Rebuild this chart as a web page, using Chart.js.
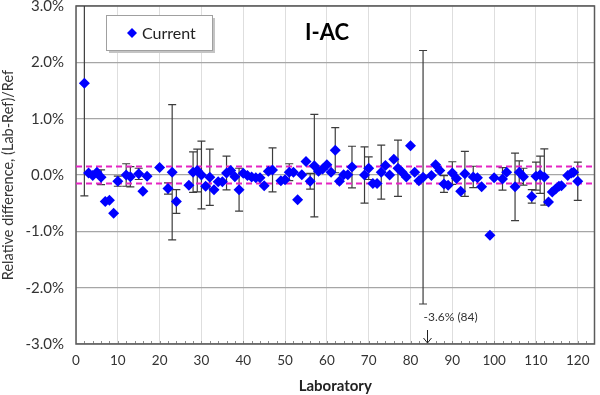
<!DOCTYPE html>
<html><head><meta charset="utf-8">
<script src="https://cdn.jsdelivr.net/npm/chart.js@4.4.1/dist/chart.umd.min.js"></script>
<style>html,body{margin:0;padding:0;background:#fff;}canvas{display:block;}</style>
</head><body>
<canvas id="c" width="600" height="395" style="width:600px;height:395px"></canvas>
<script>
// ---- data ----
const labs = [2,3,4,5,6,7,8,9,10,12,13,15,16,17,20,22,23,24,27,28,29,30,31,32,33,34,35,36,37,38,39,40,
  41,42,43,44,45,46,47,49,50,51,52,53,54,55,56,57,58,59,60,61,62,63,64,65,66,69,70,71,72,73,74,75,76,77,
  78,79,80,81,82,83,85,86,87,88,89,90,91,92,93,95,96,97,99,100,102,103,105,106,107,109,110,111,112,113,
  113.9,114.7,115.5,116.1,117.6,118.5,119,120];
const values = [1.63,0.035,-0.01,0.05,-0.04,-0.47,-0.45,-0.68,-0.11,0.0,-0.03,0.02,-0.29,-0.02,0.135,-0.24,0.05,-0.47,-0.18,0.05,0.08,0.0,-0.2,-0.04,-0.26,-0.12,-0.12,0.035,0.08,-0.03,-0.26,0.03,
  -0.01,-0.035,-0.05,-0.05,-0.19,0.065,0.09,-0.1,-0.085,0.05,0.05,-0.44,0.005,0.24,-0.11,0.165,0.065,0.105,0.18,0.05,0.44,-0.11,0.005,0.005,0.14,0.0,0.12,-0.15,-0.15,0.05,0.17,0.0,0.28,0.12,
  0.05,-0.035,0.52,0.05,-0.1,-0.04,-0.01,0.18,0.08,-0.16,-0.18,0.035,-0.06,-0.29,0.02,-0.035,-0.05,-0.21,-1.07,-0.05,-0.07,0.05,-0.21,0.05,-0.03,-0.38,-0.02,0.005,-0.035,-0.48,
  -0.3,-0.25,-0.2,-0.19,-0.01,0.035,0.05,-0.11];
const errors = [2.0,null,null,null,0.13,null,null,null,0.09,0.2,0.18,0.1,null,null,null,0.1,1.2,0.21,null,0.36,0.38,0.6,null,0.5,null,null,null,0.3,null,null,0.38,null,
  null,null,null,null,null,null,0.39,null,null,0.15,null,null,null,null,0.14,0.91,null,null,null,null,0.4,null,null,null,0.37,0.5,0.2,null,null,0.48,null,null,null,0.5,
  null,null,null,null,null,2.25,null,null,null,0.15,null,0.2,null,null,0.4,0.19,null,null,null,null,0.2,null,0.6,0.2,0.15,0.12,0.25,0.33,0.5,null,
  null,null,null,null,null,null,null,0.34];
const seriesName = 'Current';
const chartTitle = 'I-AC';
const limitValues = [0.15, -0.15];
const xRange = [0, 124];
const yRange = [-3, 3];
const offScaleLab = 84;
const offScaleValue = -3.6;
const xTitle = 'Laboratory';
const yTitle = 'Relative difference, (Lab-Ref)/Ref';

const FONT = 'Lato, "Open Sans", sans-serif';
const points = labs.map((l, i) => ({x: l, y: values[i]}));
const limitSets = limitValues.map(v => ({
  type: 'line', label: 'limit', data: [{x: xRange[0], y: v}, {x: xRange[1], y: v}],
  borderColor: '#e524c4', borderWidth: 2, borderDash: [6, 4], pointRadius: 0, showLine: true, order: 2
}));

const deco = {
  id: 'deco',
  beforeDatasetsDraw(chart) {
    const {ctx, chartArea: a, scales: {x, y}} = chart;
    ctx.save();
    ctx.strokeStyle = '#8c8c8c'; ctx.lineWidth = 1;
    for (let v = 2; v < x.max; v += 2) {
      const px = Math.round(x.getPixelForValue(v)) + 0.5;
      ctx.beginPath(); ctx.moveTo(px, a.bottom); ctx.lineTo(px, a.bottom - 3); ctx.stroke();
    }
    ctx.strokeStyle = '#5a5a5a'; ctx.lineWidth = 1.5;
    ctx.strokeRect(a.left, a.top, a.right - a.left, a.bottom - a.top);
    ctx.restore();
    ctx.save();
    ctx.beginPath(); ctx.rect(a.left, a.top, a.right - a.left, a.bottom - a.top); ctx.clip();
    ctx.strokeStyle = '#3c3c3c'; ctx.lineWidth = 1.2;
    labs.forEach((l, i) => {
      const e = errors[i];
      if (e == null) return;
      const px = x.getPixelForValue(l);
      const y1 = y.getPixelForValue(values[i] + e), y2 = y.getPixelForValue(values[i] - e);
      ctx.beginPath();
      ctx.moveTo(px, y1); ctx.lineTo(px, y2);
      ctx.moveTo(px - 4, y1); ctx.lineTo(px + 4, y1);
      ctx.moveTo(px - 4, y2); ctx.lineTo(px + 4, y2);
      ctx.stroke();
    });
    ctx.restore();
  },
  afterDatasetsDraw(chart) {
    const {ctx, chartArea: a, scales: {x, y}} = chart;
    ctx.save();
    const ax = Math.round(x.getPixelForValue(offScaleLab)) + 0.5;
    const yb = y.getPixelForValue(yRange[0]) - 1;
    ctx.strokeStyle = '#222'; ctx.lineWidth = 1;
    ctx.beginPath(); ctx.moveTo(ax, yb - 13); ctx.lineTo(ax, yb);
    ctx.moveTo(ax - 4, yb - 5); ctx.lineTo(ax, yb); ctx.lineTo(ax + 4, yb - 5); ctx.stroke();
    ctx.fillStyle = '#333'; ctx.font = '12px ' + FONT; ctx.textAlign = 'left'; ctx.textBaseline = 'middle';
    ctx.fillText(offScaleValue.toFixed(1) + '% (' + offScaleLab + ')', ax - 4, yb - 26);
    ctx.fillStyle = '#000'; ctx.font = 'bold 22px ' + FONT; ctx.textAlign = 'center';
    ctx.fillText(chartTitle, a.left + 251, a.top + 27);
    const lx = a.left + 30, ly = a.top + 9, lw = 106, lh = 35;
    ctx.fillStyle = '#c4c4c4'; ctx.fillRect(lx + 3, ly + 3, lw, lh);
    ctx.fillStyle = '#fff'; ctx.fillRect(lx, ly, lw, lh);
    ctx.strokeStyle = '#a0a0a0'; ctx.lineWidth = 1; ctx.strokeRect(lx + 0.5, ly + 0.5, lw, lh);
    const cx = lx + 26, cy = ly + 18;
    ctx.fillStyle = '#0000ff'; ctx.beginPath();
    ctx.moveTo(cx, cy - 5); ctx.lineTo(cx + 5, cy); ctx.lineTo(cx, cy + 5); ctx.lineTo(cx - 5, cy); ctx.closePath(); ctx.fill();
    ctx.fillStyle = '#222'; ctx.font = '16px ' + FONT; ctx.textAlign = 'left';
    ctx.fillText(seriesName, cx + 10, cy + 1);
    ctx.restore();
  }
};

new Chart(document.getElementById('c'), {
  type: 'scatter',
  data: {
    datasets: [
      {label: seriesName, data: points, pointStyle: 'rectRot', pointRadius: 5.5, pointHoverRadius: 5.5,
       backgroundColor: '#0000ff', borderWidth: 0, order: 0},
      ...limitSets
    ]
  },
  options: {
    responsive: false, animation: false, events: [],
    layout: {padding: {left: 0, right: 3, top: 6, bottom: 0}},
    plugins: {legend: {display: false}, tooltip: {enabled: false}},
    scales: {
      x: {
        type: 'linear', min: xRange[0], max: xRange[1],
        afterFit(s) { s.height = 51; s.paddingLeft = 0; s.paddingRight = 0; },
        border: {display: false},
        grid: {color: '#dedede', lineWidth: 1, drawTicks: false},
        ticks: {stepSize: 10, includeBounds: false, padding: 9, color: '#333', font: {family: FONT, size: 13.5}, maxRotation: 0},
        title: {display: true, text: xTitle, color: '#222', font: {family: FONT, size: 15, weight: 'bold'}, padding: {top: 0, bottom: 0}}
      },
      y: {
        min: yRange[0], max: yRange[1],
        afterFit(s) { s.width = 76; s.paddingTop = 0; s.paddingBottom = 0; },
        border: {display: false},
        grid: {color: '#a6a6a6', lineWidth: 1.3, drawTicks: false},
        ticks: {stepSize: 1, includeBounds: false, padding: 12, color: '#333', font: {family: FONT, size: 15},
          callback: v => v.toFixed(1) + '%'},
        title: {display: true, text: yTitle, color: '#333', font: {family: FONT, size: 14.5}, padding: {top: 0, bottom: 0}}
      }
    }
  },
  plugins: [deco]
});
</script>
</body></html>
